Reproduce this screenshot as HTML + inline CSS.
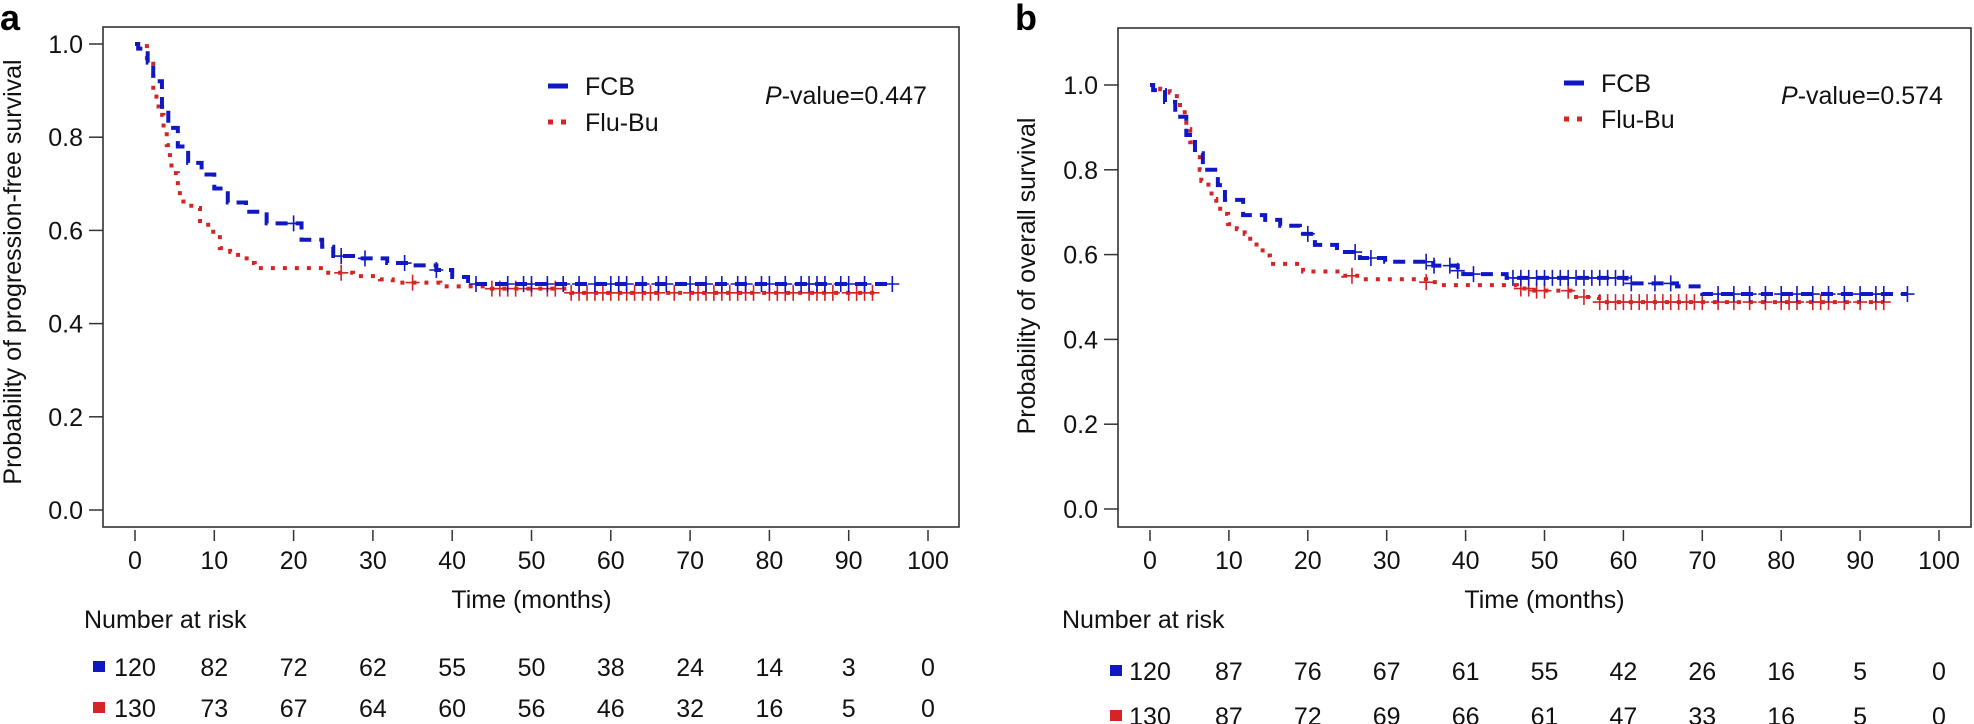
<!DOCTYPE html>
<html><head><meta charset="utf-8">
<style>
html,body{margin:0;padding:0;background:#fff;}
svg{display:block;font-family:"Liberation Sans",Arial,sans-serif;}
</style></head>
<body>
<svg id="fig" width="1974" height="724" viewBox="0 0 1974 724" xmlns="http://www.w3.org/2000/svg">
<g id="pa"></g>
<g id="pb"></g>
</svg>
<script>
// ---------- Panel a data (progression-free survival) ----------
const aFcbTimes = [0,0.4,1.6,2.3,3.4,4.2,5.4,6.7,8.4,10,11.7,14,16.6,21,23.6,25,28.4,31.8,35,38,40,42];
const aFcbSurv  = [1,0.99,0.96,0.92,0.865,0.82,0.78,0.745,0.72,0.69,0.66,0.64,0.615,0.58,0.565,0.545,0.54,0.53,0.525,0.515,0.5,0.485];
const aFcbEnd = 95.5;
const aFcbCens = [20,26,29,34,38,43,47,49,50,52,54,56,58,60,61,62,64,66,67,70,72,74,76,77,79,80,82,84,85,86,87,89,90,92,95.5];
const aFluTimes = [0,1.5,2.3,2.7,3.1,3.6,4.0,4.4,4.6,5.4,6.1,7.1,8.2,9.5,10.7,12,13,14.5,15.1,23.7,27.5,30.9,32.5,38.5,45,55];
const aFluSurv  = [1,0.962,0.9,0.866,0.848,0.815,0.783,0.745,0.723,0.68,0.662,0.648,0.612,0.597,0.562,0.554,0.54,0.53,0.519,0.509,0.502,0.495,0.488,0.48,0.475,0.466];
const aFluEnd = 93.5;
const aFluCens = [26,35,45,46,47,48,50,52,53,55,56,57,58,59,60,61,62,63,64,65,66,68,70,71,72,73,74,75,76,77,78,80,81,82,83,85,86,87,88,90,91,92,93];
const aRiskFcb = [120,82,72,62,55,50,38,24,14,3,0];
const aRiskFlu = [130,73,67,64,60,56,46,32,16,5,0];
// ---------- Panel b data (overall survival) ----------
const bFcbTimes = [0,0.4,1.9,3.2,4.6,5.7,6.7,8.6,9.5,11.8,14.6,16.5,19,20.9,23.7,26.6,29.8,35.9,39,39.7,45.2,60.4,66.8,70];
const bFcbSurv  = [1,0.988,0.96,0.925,0.882,0.839,0.8,0.764,0.729,0.693,0.682,0.668,0.649,0.623,0.606,0.592,0.583,0.574,0.562,0.554,0.545,0.532,0.525,0.507];
const bFcbEnd = 96;
const bFcbCens = [20,26,28,35,36,38,39,41,46,47,48,49,50,51,52,53,54,55,56,57,58,59,60,61,64,66,72,74,76,78,80,82,84,86,88,90,92,93,96];
const bFluTimes = [0,1.3,2.5,3.4,3.8,4.4,4.6,5.1,5.7,6.3,6.5,7.4,7.8,8.4,9.5,9.9,11,12,12.7,13.5,14.6,15.2,19.4,24.5,27,35,36.8,46.5,48.4,54,56.9];
const bFluSurv  = [1,0.99,0.982,0.967,0.943,0.924,0.896,0.865,0.83,0.8,0.774,0.75,0.731,0.708,0.696,0.672,0.66,0.649,0.63,0.61,0.598,0.578,0.56,0.55,0.542,0.535,0.528,0.52,0.515,0.5,0.488];
const bFluEnd = 93;
const bFluCens = [25.6,35,47,48,49,50,53,55,57,58,59,60,61,62,63,64,65,66,67,68,69,70,72,74,76,78,80,81,82,84,85,86,88,90,92,93];
const bRiskFcb = [120,87,76,67,61,55,42,26,16,5,0];
const bRiskFlu = [130,87,72,69,66,61,47,33,16,5,0];
const xTicks = [0,10,20,30,40,50,60,70,80,90,100];
const yTicks = [0,0.2,0.4,0.6,0.8,1.0];

const NS = "http://www.w3.org/2000/svg";
const BLUE = "#1018c4", RED = "#d42424";
const FS = 25;
function mk(parent, tag, attrs, text) {
  const e = document.createElementNS(NS, tag);
  for (const k in attrs) e.setAttribute(k, attrs[k]);
  if (text !== undefined) e.textContent = text;
  parent.appendChild(e);
  return e;
}
function stepAt(times, surv, t) {
  let s = surv[0];
  for (let i = 0; i < times.length; i++) if (times[i] <= t) s = surv[i];
  return s;
}
function drawPanel(g, cfg) {
  const X = t => cfg.x0 + (cfg.x100 - cfg.x0) * t / 100;
  const Y = s => cfg.y0 - (cfg.y0 - cfg.y1) * s;
  const box = mk(g, "rect", {x: cfg.bl, y: cfg.bt, width: cfg.br - cfg.bl, height: cfg.bb - cfg.bt, fill: "none", stroke: "#333", "stroke-width": 1.6});
  
  
  const lab = mk(g, "text", {x: cfg.labX, y: 30, "font-size": 36, "font-weight": "bold"}, cfg.label);
  
  
  yTicks.forEach(v => {
    const tk = mk(g, "line", {x1: cfg.bl - 14, x2: cfg.bl, y1: Y(v), y2: Y(v), stroke: "#333", "stroke-width": 1.5});
    
    
    const tl = mk(g, "text", {x: cfg.bl - 20, y: Y(v) + 9, "font-size": FS, "text-anchor": "end", fill: "#111"}, v.toFixed(1));
    
    
  });
  xTicks.forEach(v => {
    const tk = mk(g, "line", {x1: X(v), x2: X(v), y1: cfg.bb + 3, y2: cfg.bb + 14, stroke: "#333", "stroke-width": 1.5});
    
    
    const tl = mk(g, "text", {x: X(v), y: cfg.bb + 42, "font-size": FS, "text-anchor": "middle", fill: "#111"}, String(v));
    
    
  });
  const xt = mk(g, "text", {x: X(50), y: 608, "font-size": FS, "text-anchor": "middle", fill: "#111"}, "Time (months)");
  
  
  const yt = mk(g, "text", {x: 0, y: 0, "font-size": FS, "text-anchor": "middle", fill: "#111", transform: `translate(${cfg.ylX},${cfg.ylY}) rotate(-90)`}, cfg.ylabel);
  
  
  function series(times, surv, end, cens, color, dash, name) {
    let d = `M${X(times[0])},${Y(surv[0])}`;
    for (let i = 1; i < times.length; i++) d += ` H${X(times[i])} V${Y(surv[i])}`;
    d += ` H${X(end)}`;
    const p = mk(g, "path", {d: d, fill: "none", stroke: color, "stroke-width": 4, "stroke-dasharray": dash});
    
    
    cens.forEach(t => {
      const cx = X(t), cy = Y(stepAt(times, surv, t));
      const c = mk(g, "path", {d: `M${cx - 7},${cy} H${cx + 7} M${cx},${cy - 8} V${cy + 8}`, stroke: color, "stroke-width": 1.6, fill: "none"});
      
      
    });
  }
  series(cfg.fluT, cfg.fluS, cfg.fluE, cfg.fluC, RED, "4 8", "flu-bu");
  series(cfg.fcbT, cfg.fcbS, cfg.fcbE, cfg.fcbC, BLUE, "12 8", "fcb");
  // legend
  const l1 = mk(g, "line", {x1: cfg.legX, x2: cfg.legX + 20, y1: cfg.legY, y2: cfg.legY, stroke: BLUE, "stroke-width": 5});
  
  
  const t1 = mk(g, "text", {x: cfg.legX + 37, y: cfg.legY + 9, "font-size": FS, fill: "#111"}, "FCB");
  
  
  const l2 = mk(g, "line", {x1: cfg.legX, x2: cfg.legX + 22, y1: cfg.legY + 36, y2: cfg.legY + 36, stroke: RED, "stroke-width": 5, "stroke-dasharray": "5 8"});
  
  
  const t2 = mk(g, "text", {x: cfg.legX + 37, y: cfg.legY + 45, "font-size": FS, fill: "#111"}, "Flu-Bu");
  
  
  const pv = mk(g, "text", {x: cfg.pX, y: 104, "font-size": FS, fill: "#111"});
  
  
  mk(pv, "tspan", {"font-style": "italic"}, "P");
  mk(pv, "tspan", {}, "-value=" + cfg.pval);
  // risk table
  const nr = mk(g, "text", {x: cfg.nrX, y: 628, "font-size": FS, fill: "#111"}, "Number at risk");
  
  
  [[cfg.riskFcb, BLUE, cfg.r1, 'fcb'], [cfg.riskFlu, RED, cfg.r2, 'flu-bu']].forEach(([arr, col, ry, nm]) => {
    const sq = mk(g, "rect", {x: cfg.sqX, y: ry - 6, width: 12, height: 11, fill: col});
    
    
    arr.forEach((v, i) => {
      const tx = mk(g, "text", {x: X(xTicks[i]), y: ry + 9, "font-size": FS, "text-anchor": "middle", fill: "#111"}, String(v));
      
      
    });
  });
}
drawPanel(document.getElementById("pa"), {
  label: "a", labX: 0, bl: 103, br: 959, bt: 27, bb: 527, x0: 135, x100: 928, y0: 510, y1: 44,
  ylabel: "Probability of progression-free survival", ylX: 21, ylY: 272,
  fcbT: aFcbTimes, fcbS: aFcbSurv, fcbE: aFcbEnd, fcbC: aFcbCens,
  fluT: aFluTimes, fluS: aFluSurv, fluE: aFluEnd, fluC: aFluCens,
  legX: 548, legY: 86, pX: 765, pval: "0.447",
  nrX: 84, sqX: 93, r1: 667, r2: 708, riskFcb: aRiskFcb, riskFlu: aRiskFlu
});
drawPanel(document.getElementById("pb"), {
  label: "b", labX: 1015, bl: 1118, br: 1971, bt: 28, bb: 527, x0: 1150, x100: 1939, y0: 509, y1: 85,
  ylabel: "Probability of overall survival", ylX: 1035, ylY: 276,
  fcbT: bFcbTimes, fcbS: bFcbSurv, fcbE: bFcbEnd, fcbC: bFcbCens,
  fluT: bFluTimes, fluS: bFluSurv, fluE: bFluEnd, fluC: bFluCens,
  legX: 1564, legY: 83, pX: 1781, pval: "0.574",
  nrX: 1062, sqX: 1110, r1: 671, r2: 716, riskFcb: bRiskFcb, riskFlu: bRiskFlu
});
</script>
</body></html>
